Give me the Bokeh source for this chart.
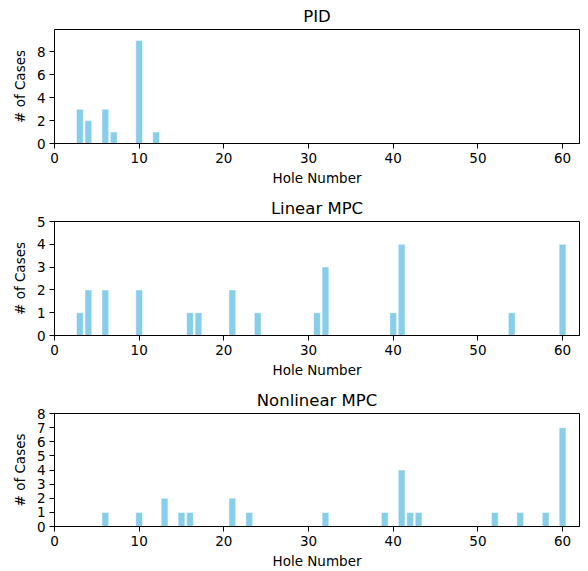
from bokeh.plotting import figure
from bokeh.layouts import column
from bokeh.models import Range1d, FixedTicker
from bokeh.embed import file_html
from bokeh.resources import INLINE

# Data
pid_holes = [3, 4, 6, 7, 10, 12]
pid_counts = [3, 2, 3, 1, 9, 1]

lin_holes = [3, 4, 6, 10, 16, 17, 21, 24, 31, 32, 40, 41, 54, 60]
lin_counts = [1, 2, 2, 2, 1, 1, 2, 1, 1, 3, 1, 4, 1, 4]

nl_holes = [6, 10, 13, 15, 16, 21, 23, 32, 39, 41, 42, 43, 52, 55, 58, 60]
nl_counts = [1, 1, 2, 1, 1, 2, 1, 1, 1, 4, 1, 1, 1, 1, 1, 7]

titles = ["PID", "Linear MPC", "Nonlinear MPC"]
x_ticks = [0, 10, 20, 30, 40, 50, 60]
pid_yticks = [0, 2, 4, 6, 8]
lin_yticks = [0, 1, 2, 3, 4, 5]
nl_yticks = [0, 1, 2, 3, 4, 5, 6, 7, 8]

FONT = "DejaVu Sans"
BAR = "#87CEEB"


def make(title, holes, counts, yticks, ytop, height, top, bottom):
    p = figure(width=580, height=height, output_backend="svg", toolbar_location=None,
               x_range=Range1d(0, 62), y_range=Range1d(0, ytop),
               min_border_left=54, min_border_right=1,
               min_border_top=top, min_border_bottom=bottom)
    p.title.text = title
    p.title.align = "center"
    p.title.text_font = FONT
    p.title.text_font_style = "normal"
    p.title.text_font_size = "16.5px"
    p.title.text_color = "black"
    p.title.standoff = 8
    p.vbar(x=holes, top=counts, width=0.8, fill_color=BAR, line_color="white", line_width=0.5)
    p.xgrid.visible = False
    p.ygrid.visible = False
    p.outline_line_color = "black"
    p.outline_line_width = 1
    p.xaxis.ticker = FixedTicker(ticks=x_ticks)
    p.yaxis.ticker = FixedTicker(ticks=yticks)
    p.xaxis.axis_label = "Hole Number"
    p.yaxis.axis_label = "# of Cases"
    for ax in (p.xaxis, p.yaxis):
        ax.axis_label_text_font = FONT
        ax.axis_label_text_font_style = "normal"
        ax.axis_label_text_font_size = "13.5px"
        ax.axis_label_text_color = "black"
        ax.major_label_text_font = FONT
        ax.major_label_text_font_size = "13.5px"
        ax.major_label_text_color = "black"
        ax.minor_tick_line_color = None
        ax.major_tick_in = 0
        ax.major_tick_out = 5
        ax.axis_line_color = "black"
        ax.major_tick_line_color = "black"
    p.xaxis.axis_label_standoff = 4
    p.yaxis.axis_label_standoff = 6
    p.xaxis.major_label_standoff = 4
    p.yaxis.major_label_standoff = 4
    return p


p1 = make(titles[0], pid_holes, pid_counts, pid_yticks, 9.95, 190, 29, 47)
p2 = make(titles[1], lin_holes, lin_counts, lin_yticks, 5, 192, 31, 47)
p3 = make(titles[2], nl_holes, nl_counts, nl_yticks, 8, 189, 31, 44)

layout = column(p1, p2, p3, spacing=0)
open("out.html", "w").write(file_html(layout, INLINE))
